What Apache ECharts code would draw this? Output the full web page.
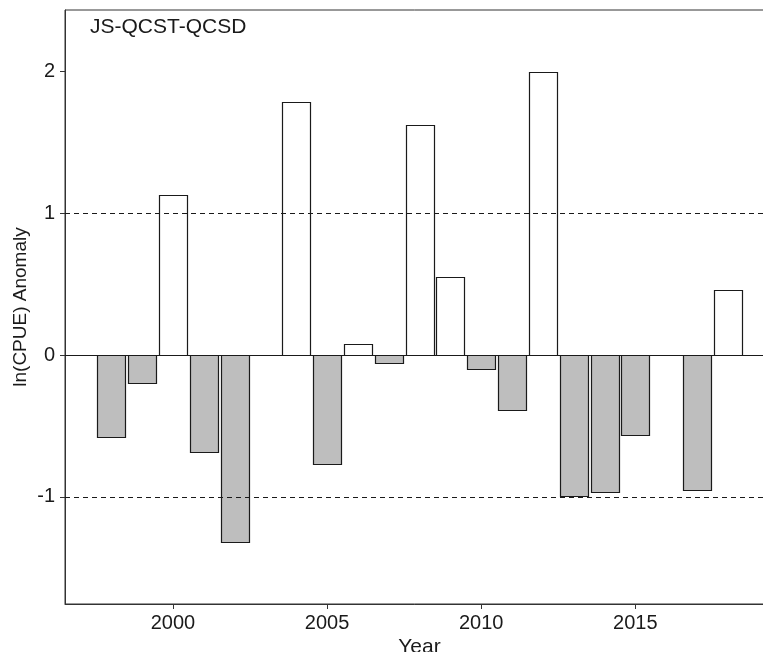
<!DOCTYPE html>
<html>
<head>
<meta charset="utf-8">
<script src="https://cdn.jsdelivr.net/npm/echarts@6/dist/echarts.min.js"></script>
<style>
  html, body { margin: 0; padding: 0; background: #fff; overflow: hidden; }
  #chart { width: 763px; height: 652px; }
</style>
</head>
<body>
<div id="chart"></div>
<script>
// Annual ln(CPUE) anomaly, JS-QCST-QCSD
const years = [1998, 1999, 2000, 2001, 2002, 2004, 2005, 2006, 2007, 2008,
               2009, 2010, 2011, 2012, 2013, 2014, 2015, 2017, 2018];
const anomaly = [-0.58, -0.20, 1.13, -0.68, -1.32, 1.78, -0.77, 0.075, -0.058, 1.62,
                 0.55, -0.10, -0.39, 1.99, -0.99, -0.965, -0.56, -0.95, 0.455];
const xTicks = [2000, 2005, 2010, 2015];
const yTicks = [-1, 0, 1, 2];
const dashedRefs = [-1, 1];
const solidRefs = [0];

const FONT = '"Liberation Sans", Arial, sans-serif';
const INK = '#1a1a1a';
const FRAME = '#333333';
const BAR_HALF = 0.45; // bar width 0.9 year

const chart = echarts.init(document.getElementById('chart'), null, { renderer: 'canvas' });

const barData = years.map((y, i) => [y, anomaly[i]]);

chart.setOption({
  animation: false,
  backgroundColor: '#ffffff',
  textStyle: { fontFamily: FONT, color: INK },
  title: {
    text: 'JS-QCST-QCSD',
    left: 90,
    top: 17,
    padding: 0,
    textStyle: { fontFamily: FONT, fontSize: 21, fontWeight: 'normal', color: INK }
  },
  grid: {
    left: 65, top: 10, width: 709, height: 594,
    outerBoundsMode: 'none',
    containLabel: false,
    show: true, borderColor: FRAME, borderWidth: 1, backgroundColor: '#ffffff'
  },
  xAxis: {
    type: 'value',
    min: 1996.5,
    max: 2019.5,
    name: 'Year',
    nameLocation: 'middle',
    nameGap: 33,
    nameMoveOverlap: false,
    nameTextStyle: { fontFamily: FONT, fontSize: 21, color: INK, verticalAlign: 'top' },
    splitLine: { show: false },
    axisLine: { show: true, onZero: false, lineStyle: { color: FRAME, width: 1 } },
    axisTick: { show: true, length: 5, customValues: xTicks, lineStyle: { color: FRAME } },
    axisLabel: {
      customValues: xTicks,
      margin: 9,
      fontFamily: FONT, fontSize: 20, color: INK,
      formatter: v => String(v)
    }
  },
  yAxis: {
    type: 'value',
    min: -1.754,
    max: 2.43,
    name: 'ln(CPUE) Anomaly',
    nameLocation: 'middle',
    nameGap: 35,
    nameMoveOverlap: false,
    nameRotate: 90,
    nameTextStyle: { fontFamily: FONT, fontSize: 19, color: INK },
    splitLine: { show: false },
    axisLine: { show: true, onZero: false, lineStyle: { color: FRAME, width: 1 } },
    axisTick: { show: true, length: 5, customValues: yTicks, lineStyle: { color: FRAME } },
    axisLabel: {
      customValues: yTicks,
      margin: 10,
      fontFamily: FONT, fontSize: 20, color: INK,
      formatter: v => String(v)
    }
  },
  series: [
    {
      type: 'custom',
      data: barData,
      clip: true,
      z: 2,
      renderItem: function (params, api) {
        const x = api.value(0);
        const v = api.value(1);
        const p1 = api.coord([x - BAR_HALF, v]);
        const p2 = api.coord([x + BAR_HALF, 0]);
        return {
          type: 'rect',
          shape: {
            x: Math.round(p1[0]) + 0.5,
            y: Math.round(Math.min(p1[1], p2[1])) + 0.5,
            width: Math.round(p2[0] - p1[0]),
            height: Math.round(Math.abs(p2[1] - p1[1]))
          },
          style: {
            fill: v < 0 ? '#BEBEBE' : '#FFFFFF',
            stroke: INK,
            lineWidth: 1.2
          }
        };
      },
      markLine: {
        silent: true,
        symbol: ['none', 'none'],
        z: 5,
        label: { show: false },
        data: [
          ...dashedRefs.map(v => ({ yAxis: v, lineStyle: { type: [5, 4], color: INK, width: 1 } })),
          ...solidRefs.map(v => ({ yAxis: v, lineStyle: { type: 'solid', color: INK, width: 1 } }))
        ]
      }
    }
  ]
});
</script>
</body>
</html>
